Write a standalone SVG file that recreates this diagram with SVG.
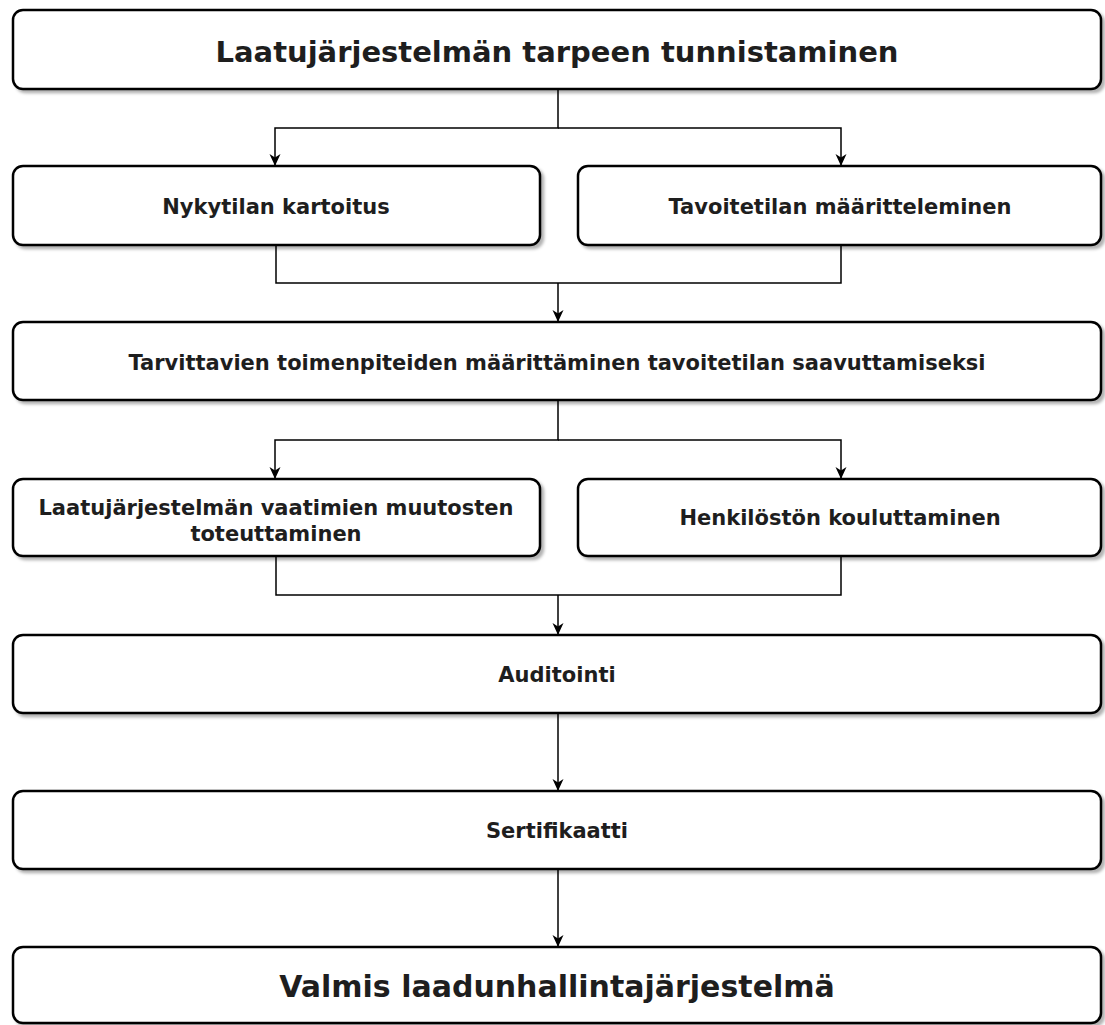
<svg xmlns="http://www.w3.org/2000/svg" width="1105" height="1025" viewBox="0 0 1105 1025">
<defs>
<filter id="sh" x="-5%" y="-20%" width="110%" height="150%">
<feDropShadow dx="3" dy="3" stdDeviation="1.5" flood-color="#000" flood-opacity="0.3"/>
</filter>
<marker id="arr" viewBox="0 0 12 12" refX="11" refY="6" markerWidth="12" markerHeight="12" markerUnits="userSpaceOnUse" orient="auto">
<path d="M0,0.5 L12,6 L0,11.5 L3.5,6 Z" fill="#000"/>
</marker>
</defs>
<style>
.box{fill:#fff;stroke:#000;stroke-width:2.5;filter:url(#sh)}
.t{font-family:"DejaVu Sans",Verdana,sans-serif;font-weight:bold;fill:#1e1e1e;text-anchor:middle;font-size:21px}
.c{fill:none;stroke:#000;stroke-width:1.5}
</style>
<rect width="1105" height="1025" fill="#fff"/>
<g id="connectors">
<path class="c" d="M558,89 V128 H275 V165" marker-end="url(#arr)"/>
<path class="c" d="M558,128 H841 V165" marker-end="url(#arr)"/>
<path class="c" d="M276,245 V283 H841 V245"/>
<path class="c" d="M558,283 V321" marker-end="url(#arr)"/>
<path class="c" d="M558,400 V440 H275 V478" marker-end="url(#arr)"/>
<path class="c" d="M558,440 H841 V478" marker-end="url(#arr)"/>
<path class="c" d="M276,556 V595 H841 V556"/>
<path class="c" d="M558,595 V634" marker-end="url(#arr)"/>
<path class="c" d="M558,713 V790" marker-end="url(#arr)"/>
<path class="c" d="M558,869 V946" marker-end="url(#arr)"/>
</g>
<g id="n1"><rect class="box" x="13" y="10" width="1088" height="79" rx="10"/><text class="t" style="font-size:29px" x="557" y="62">Laatujärjestelmän tarpeen tunnistaminen</text></g>
<g id="n2"><rect class="box" x="13" y="166" width="527" height="79" rx="10"/><text class="t" x="276" y="214">Nykytilan kartoitus</text></g>
<g id="n3"><rect class="box" x="578" y="166" width="523" height="79" rx="10"/><text class="t" x="840" y="214">Tavoitetilan määritteleminen</text></g>
<g id="n4"><rect class="box" x="13" y="322" width="1088" height="78" rx="10"/><text class="t" x="557" y="370">Tarvittavien toimenpiteiden määrittäminen tavoitetilan saavuttamiseksi</text></g>
<g id="n5"><rect class="box" x="13" y="479" width="527" height="77" rx="10"/><text class="t" x="276" y="515">Laatujärjestelmän vaatimien muutosten</text><text class="t" x="276" y="541">toteuttaminen</text></g>
<g id="n6"><rect class="box" x="578" y="479" width="523" height="77" rx="10"/><text class="t" x="840" y="525">Henkilöstön kouluttaminen</text></g>
<g id="n7"><rect class="box" x="13" y="635" width="1088" height="78" rx="10"/><text class="t" x="557" y="682">Auditointi</text></g>
<g id="n8"><rect class="box" x="13" y="791" width="1088" height="78" rx="10"/><text class="t" x="557" y="838">Sertifikaatti</text></g>
<g id="n9"><rect class="box" x="13" y="947" width="1088" height="76" rx="10"/><text class="t" style="font-size:30px" x="557" y="997">Valmis laadunhallintajärjestelmä</text></g>
</svg>
